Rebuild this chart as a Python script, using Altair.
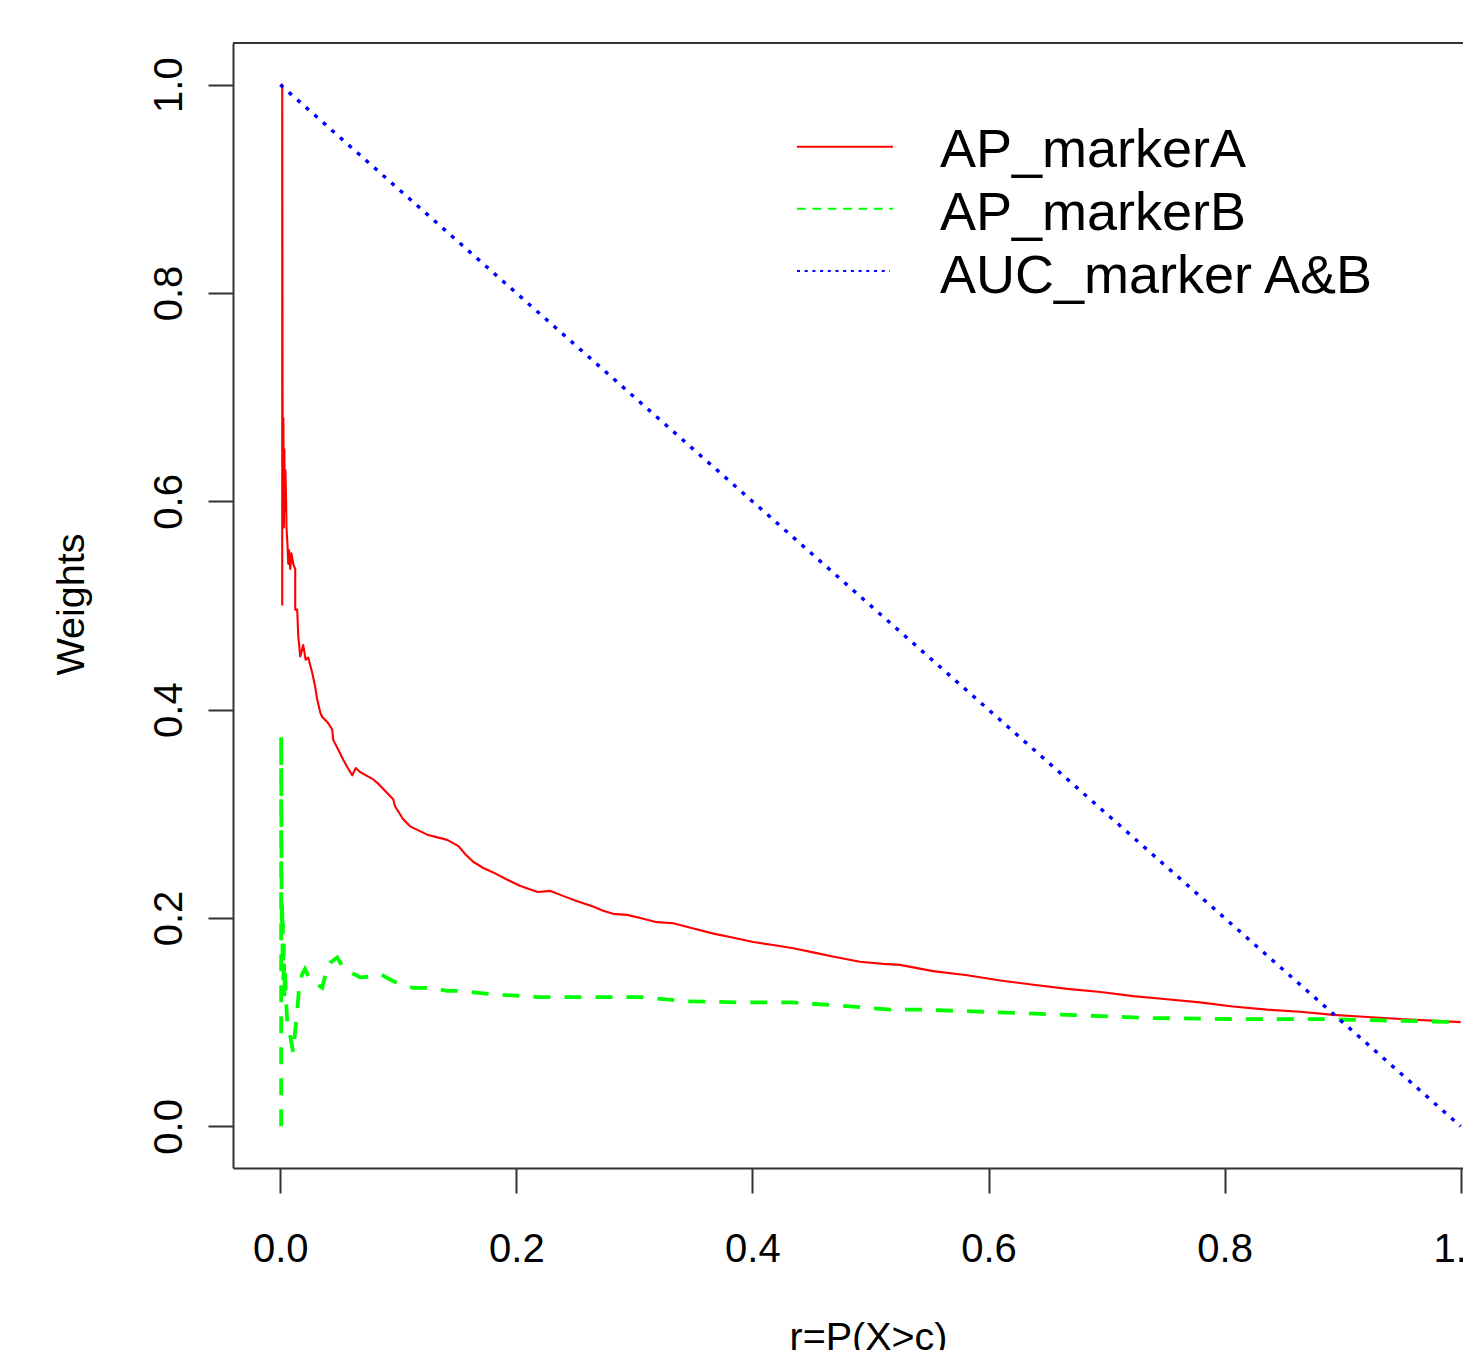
import altair as alt
import pandas as pd

# ---------------- data ----------------
red_r = [0.0017, 0.0017, 0.0020, 0.0024, 0.0027, 0.0031, 0.0035, 0.0039, 0.0044, 0.0050,
         0.0053, 0.0062, 0.0068, 0.0075, 0.0085, 0.0095, 0.0110, 0.0127, 0.0127, 0.0144,
         0.0153, 0.0170, 0.0195, 0.0215, 0.0237, 0.0270, 0.0296, 0.0313, 0.0340, 0.0356,
         0.0400, 0.0440, 0.0449, 0.0490, 0.0534, 0.0568, 0.0610, 0.0640, 0.0678, 0.0788,
         0.0820, 0.0957, 0.0974, 0.1040, 0.1100, 0.1245, 0.1415, 0.1510, 0.1570, 0.1635,
         0.1720, 0.1800, 0.1920, 0.2030, 0.2180, 0.2290, 0.2400, 0.2516, 0.2650, 0.2736,
         0.2820, 0.2940, 0.3050, 0.3190, 0.3330, 0.3500, 0.3670, 0.3840, 0.4007, 0.4176,
         0.4346, 0.4515, 0.4680, 0.4910, 0.5110, 0.5250, 0.5530, 0.5820, 0.6100, 0.6380,
         0.6670, 0.6950, 0.7226, 0.7510, 0.7790, 0.8070, 0.8360, 0.8640, 0.8920, 0.9210,
         0.9490, 1.0000]
red_w = [0.500, 1.000, 0.700, 0.600, 0.680, 0.575, 0.650, 0.590, 0.630, 0.600,
         0.575, 0.557, 0.540, 0.553, 0.535, 0.550, 0.540, 0.535, 0.496, 0.496,
         0.470, 0.451, 0.462, 0.448, 0.450, 0.436, 0.422, 0.410, 0.397, 0.393,
         0.388, 0.381, 0.371, 0.362, 0.352, 0.345, 0.337, 0.344, 0.340, 0.333,
         0.330, 0.314, 0.307, 0.295, 0.288, 0.280, 0.275, 0.269, 0.261, 0.254,
         0.248, 0.244, 0.237, 0.231, 0.225, 0.226, 0.221, 0.216, 0.211, 0.207,
         0.204, 0.203, 0.200, 0.196, 0.195, 0.190, 0.185, 0.181, 0.177, 0.174,
         0.171, 0.167, 0.163, 0.158, 0.156, 0.155, 0.149, 0.145, 0.140, 0.136,
         0.132, 0.129, 0.125, 0.122, 0.119, 0.115, 0.112, 0.110, 0.107, 0.105,
         0.103, 0.100]

green_r = [0.0008, 0.0008, 0.0011, 0.0014, 0.0017, 0.0020, 0.0023, 0.0027, 0.0031, 0.0035,
           0.0040, 0.0050, 0.0060, 0.0075, 0.0110, 0.0125, 0.0140, 0.0160, 0.0185, 0.0210,
           0.0250, 0.0295, 0.0356, 0.0380, 0.0424, 0.0483, 0.0525, 0.0576, 0.0678, 0.0790,
           0.0850, 0.0930, 0.1017, 0.1127, 0.1270, 0.1415, 0.1525, 0.1780, 0.2200, 0.2710,
           0.3050, 0.3450, 0.3900, 0.4320, 0.4740, 0.5170, 0.5420, 0.5955, 0.6670, 0.7370,
           0.8070, 0.8780, 0.9210, 1.0000]
green_w = [0.000, 0.375, 0.230, 0.190, 0.215, 0.165, 0.195, 0.140, 0.175, 0.125,
           0.150, 0.119, 0.100, 0.093, 0.071, 0.090, 0.105, 0.134, 0.146, 0.151,
           0.141, 0.138, 0.133, 0.144, 0.157, 0.162, 0.154, 0.149, 0.143, 0.144,
           0.146, 0.141, 0.136, 0.133, 0.133, 0.130, 0.130, 0.127, 0.124, 0.124,
           0.124, 0.120, 0.119, 0.119, 0.116, 0.112, 0.112, 0.110, 0.107, 0.104,
           0.103, 0.103, 0.102, 0.100]

blue_r = [0.0, 1.0]
blue_w = [1.0, 0.0]

x_ticks = [0.0, 0.2, 0.4, 0.6, 0.8, 1.0]
y_ticks = [0.0, 0.2, 0.4, 0.6, 0.8, 1.0]
legend_labels = ["AP_markerA", "AP_markerB", "AUC_marker A&B"]
x_title = "r=P(X>c)"
y_title = "Weights"

# ---------------- styling / layout ----------------
W, H = 1230, 1125
FONT = "Liberation Sans"
AX = "#333333"
RED, GREEN, BLUE = "#FF0000", "#00FF00", "#0000FF"

xscale = alt.Scale(domain=[-0.04, -0.04 + W / 1180.5], nice=False, zero=False)
yscale = alt.Scale(domain=[-0.04, 1.04], nice=False, zero=False)

xaxis = alt.Axis(values=x_ticks, format=".1f", title=x_title, grid=False,
                 tickSize=25, tickWidth=2, tickColor=AX, domainColor=AX, domainWidth=2,
                 labelFont=FONT, labelFontSize=40, labelColor="black", labelPadding=68,
                 labelBaseline="alphabetic", labelAlign="center", labelFlush=False,
                 labelOverlap=False, titleFont=FONT, titleFontSize=39.5,
                 titleFontWeight="normal", titleColor="black", titleX=635, titleY=181,
                 titleBaseline="alphabetic", titleAlign="center", titleAngle=0)
yaxis = alt.Axis(values=y_ticks, format=".1f", title=y_title, grid=False,
                 tickSize=25, tickWidth=2, tickColor=AX, domainColor=AX, domainWidth=2,
                 labelFont=FONT, labelFontSize=40, labelColor="black", labelPadding=27,
                 labelAngle=270, labelAlign="center", labelBaseline="alphabetic",
                 labelFlush=False, labelOverlap=False, titleFont=FONT, titleFontSize=39.5,
                 titleFontWeight="normal", titleColor="black", titleX=-150, titleY=561,
                 titleBaseline="alphabetic", titleAlign="center", titleAngle=270)


def series(r, w):
    return pd.DataFrame({"r": r, "w": w, "i": list(range(len(r)))})


def line_layer(r, w, **mark):
    return alt.Chart(series(r, w)).mark_line(**mark).encode(
        x=alt.X("r:Q", scale=xscale, axis=xaxis),
        y=alt.Y("w:Q", scale=yscale, axis=yaxis),
        order=alt.Order("i:Q"),
    )


red_line = line_layer(red_r, red_w, color=RED, strokeWidth=2.1, strokeJoin="round")
green_line = line_layer(green_r, green_w, color=GREEN, strokeWidth=3.8,
                        strokeDash=[17, 14], strokeCap="butt")
blue_line = line_layer(blue_r, blue_w, color=BLUE, strokeWidth=3.4,
                       strokeDash=[4, 7.4], strokeCap="butt")

one = pd.DataFrame({"k": [0]})
top_frame = alt.Chart(one).mark_rule(color=AX, strokeWidth=2).encode(
    x=alt.value(0), x2=alt.value(W), y=alt.value(0))

leg_colors = [RED, GREEN, BLUE]
leg_dash = [[1, 0], [8.7, 6.7], [3, 4.7]]
leg_line_y = [103.7, 165.7, 228.0]
leg_text_y = [123.7, 186.8, 249.7]
leg_x2 = [660, 660, 657]

legend_layers = []
for i, lab in enumerate(legend_labels):
    df = pd.DataFrame({"label": [lab]})
    legend_layers.append(
        alt.Chart(df).mark_rule(color=leg_colors[i], strokeWidth=2,
                                strokeDash=leg_dash[i], strokeCap="butt").encode(
            x=alt.value(564), x2=alt.value(leg_x2[i]), y=alt.value(leg_line_y[i])))
    legend_layers.append(
        alt.Chart(df).mark_text(font=FONT, fontSize=54, align="left",
                                baseline="alphabetic", color="black").encode(
            text="label:N", x=alt.value(707), y=alt.value(leg_text_y[i])))

chart = alt.layer(red_line, green_line, blue_line, top_frame, *legend_layers).properties(
    width=W, height=H,
    padding={"left": 225, "top": 35, "right": 0, "bottom": 182},
    autosize=alt.AutoSizeParams(type="none"),
    background="white",
).configure_view(stroke="transparent")

chart.save("out.html", embed_options={"renderer": "svg", "actions": False})
